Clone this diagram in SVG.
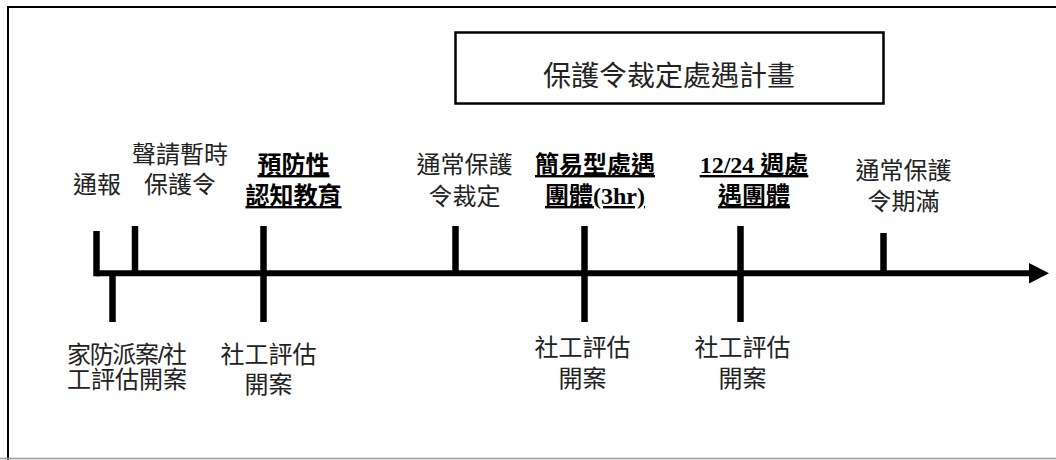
<svg xmlns="http://www.w3.org/2000/svg" width="1056" height="460" viewBox="0 0 1056 460">
<style>
.lbl{font-family:"Liberation Sans","Noto Sans CJK TC",sans-serif;font-size:24px;fill:#222;text-anchor:middle}
.bld{font-family:"Liberation Serif","Noto Sans CJK TC",serif;font-size:24px;font-weight:bold;fill:#000;text-anchor:middle;text-decoration:underline}
.tick{stroke:#000;stroke-width:6.5;fill:none}
</style>
<rect width="1056" height="460" fill="#fff"/>
<g id="frame">
<line x1="7" y1="7" x2="1056" y2="7" stroke="#000" stroke-width="2"/>
<line x1="8" y1="6" x2="8" y2="460" stroke="#000" stroke-width="2"/>
<line x1="0" y1="458.5" x2="1056" y2="458.5" stroke="#999" stroke-width="1.5"/>
</g>
<g id="title">
<rect x="455.5" y="32.5" width="428" height="71" fill="#fff" stroke="#000" stroke-width="2.5"/>
<text x="669" y="86" style="font-family:'Liberation Sans','Noto Sans CJK TC',sans-serif;font-size:28px;fill:#222;text-anchor:middle">保護令裁定處遇計畫</text>
</g>
<g id="connectors">
<line x1="96.5" y1="273.3" x2="1031" y2="273.3" stroke="#000" stroke-width="6"/>
<polygon points="1029,263 1049,273.3 1029,283.5" fill="#000"/>
<line class="tick" x1="96.5" y1="231" x2="96.5" y2="276.3"/>
<line class="tick" x1="135" y1="226" x2="135" y2="273"/>
<line class="tick" x1="112.5" y1="273" x2="112.5" y2="322"/>
<line class="tick" x1="263.5" y1="226" x2="263.5" y2="322"/>
<line class="tick" x1="455.5" y1="226" x2="455.5" y2="273"/>
<line class="tick" x1="584.5" y1="226" x2="584.5" y2="322"/>
<line class="tick" x1="740.5" y1="226" x2="740.5" y2="322"/>
<line class="tick" x1="883.5" y1="233" x2="883.5" y2="273"/>
</g>
<g id="n-report"><text class="lbl" x="97" y="193">通報</text></g>
<g id="n-temp"><text class="lbl" x="180" y="163">聲請暫時</text><text class="lbl" x="180" y="193">保護令</text></g>
<g id="n-prevent"><text class="bld" x="293.5" y="173">預防性</text><text class="bld" x="293.5" y="204">認知教育</text></g>
<g id="n-ruling"><text class="lbl" x="464.5" y="173">通常保護</text><text class="lbl" x="464.5" y="205">令裁定</text></g>
<g id="n-simple"><text class="bld" x="595" y="173">簡易型處遇</text><text class="bld" x="595" y="204">團體(3hr)</text></g>
<g id="n-weekly"><text class="bld" x="754" y="173">12/24 週處</text><text class="bld" x="754" y="204">遇團體</text></g>
<g id="n-expire"><text class="lbl" x="903.5" y="179">通常保護</text><text class="lbl" x="903.5" y="210">令期滿</text></g>
<g id="n-case"><text class="lbl" x="127" y="363" textLength="120">家防派案/社</text><text class="lbl" x="127" y="388">工評估開案</text></g>
<g id="n-sw1"><text class="lbl" x="268.5" y="363">社工評估</text><text class="lbl" x="268.5" y="393">開案</text></g>
<g id="n-sw2"><text class="lbl" x="582.5" y="356">社工評估</text><text class="lbl" x="582.5" y="387">開案</text></g>
<g id="n-sw3"><text class="lbl" x="742.5" y="356">社工評估</text><text class="lbl" x="742.5" y="387">開案</text></g>
</svg>
